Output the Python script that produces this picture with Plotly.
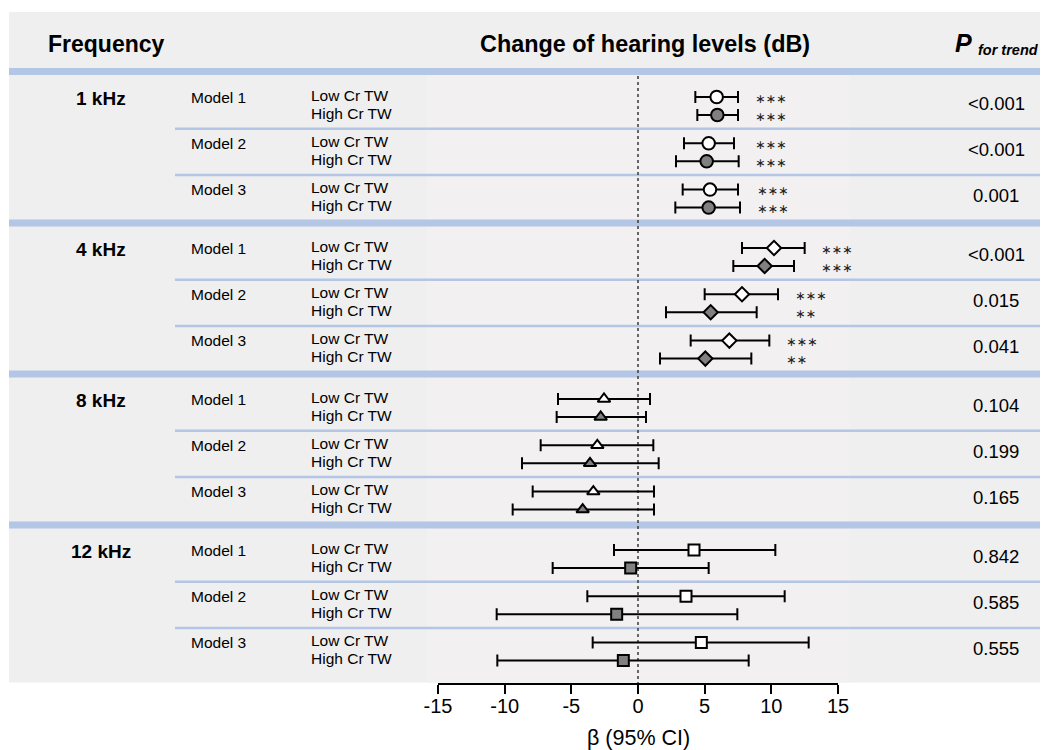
import plotly.graph_objects as go

# ---------------- data ----------------
frequencies = ["1 kHz", "4 kHz", "8 kHz", "12 kHz"]
models = ["Model 1", "Model 2", "Model 3"]
groups = ["Low Cr TW", "High Cr TW"]

# beta and 95% CI, rows = frequency, cols = model
beta_low = [[5.9, 5.3, 5.4], [10.2, 7.8, 6.85], [-2.55, -3.05, -3.35], [4.2, 3.6, 4.75]]
lower_low = [[4.3, 3.45, 3.35], [7.8, 5.0, 3.95], [-6.0, -7.3, -7.9], [-1.8, -3.8, -3.4]]
upper_low = [[7.5, 7.2, 7.5], [12.5, 10.5, 9.85], [0.9, 1.15, 1.2], [10.3, 11.0, 12.8]]

beta_high = [[5.95, 5.15, 5.3], [9.5, 5.45, 5.05], [-2.8, -3.6, -4.15], [-0.55, -1.6, -1.1]]
lower_high = [[4.45, 2.85, 2.8], [7.15, 2.1, 1.65], [-6.1, -8.7, -9.4], [-6.4, -10.6, -10.55]]
upper_high = [[7.5, 7.55, 7.65], [11.7, 8.9, 8.5], [0.6, 1.55, 1.2], [5.3, 7.45, 8.3]]

stars_low = [["***", "***", "***"], ["***", "***", "***"], ["", "", ""], ["", "", ""]]
stars_high = [["***", "***", "***"], ["***", "**", "**"], ["", "", ""], ["", "", ""]]

p_trend = [["<0.001", "<0.001", "0.001"], ["<0.001", "0.015", "0.041"],
           ["0.104", "0.199", "0.165"], ["0.842", "0.585", "0.555"]]

tick_vals = [-15, -10, -5, 0, 5, 10, 15]
tick_text = ["-15", "-10", "-5", "0", "5", "10", "15"]
x_title = "β (95% CI)"

# ---------------- styling / layout ----------------
OFF = 8                      # page offset of the figure inside the browser
W, H = 1048, 750 - OFF
AXIS_Y = 683                 # screen y of the x axis line
FONT = "Liberation Sans, Arial, sans-serif"
BLUE = "#b4c6e6"
BG = "#efefef"
BG_MID = "#f2f0f0"
symbols = ["circle", "diamond", "triangle-up", "square"]
msizes = [12.5, 11, 11, 11]
fills = ["white", "#808080"]

Y0, FSTEP, MSTEP, GSTEP = 97, 151, 46.3, 18


def row_y(i, j, k):
    return Y0 + FSTEP * i + MSTEP * j + GSTEP * k


def px(x):
    return (x - OFF) / W


def py(y):
    return (H - (y - OFF)) / H


fig = go.Figure()

shapes = []
shapes.append(dict(type="rect", xref="paper", yref="y", x0=px(9), x1=1, y0=12, y1=682.5,
                   fillcolor=BG, line_width=0, layer="below"))
shapes.append(dict(type="rect", xref="paper", yref="y", x0=px(427), x1=px(850), y0=75, y1=682.5,
                   fillcolor=BG_MID, line_width=0, layer="below"))
thick_ys = [68] + [row_y(i, 2, 1) + 12 for i in range(3)]
for ty in thick_ys:
    shapes.append(dict(type="rect", xref="paper", yref="y", x0=px(9), x1=1, y0=ty, y1=ty + 7,
                       fillcolor=BLUE, line_width=0, layer="below"))
for i in range(4):
    for j in range(2):
        ty = row_y(i, j, 1) + 12.5
        shapes.append(dict(type="rect", xref="paper", yref="y", x0=px(175), x1=1, y0=ty, y1=ty + 2.5,
                           fillcolor=BLUE, line_width=0, layer="below"))
shapes.append(dict(type="line", xref="x", yref="y", x0=0, x1=0, y0=76, y1=AXIS_Y,
                   line=dict(color="#444444", width=1.6, dash="dot"), layer="below"))

series = [(beta_low, lower_low, upper_low), (beta_high, lower_high, upper_high)]
for i in range(4):
    for k in range(2):
        b, lo, up = series[k]
        xs = b[i]
        ys = [row_y(i, j, k) for j in range(3)]
        fig.add_trace(go.Scatter(
            x=xs, y=ys, mode="markers", showlegend=False,
            marker=dict(symbol=symbols[i], size=msizes[i], color=fills[k],
                        line=dict(color="black", width=2)),
            error_x=dict(type="data", symmetric=False,
                         array=[up[i][j] - xs[j] for j in range(3)],
                         arrayminus=[xs[j] - lo[i][j] for j in range(3)],
                         color="black", thickness=2, width=6),
        ))

ann = []
ann.append(dict(x=px(46), y=44, xref="paper", yref="y", text="<b>Frequency</b>", showarrow=False,
                xanchor="left", yanchor="middle", font=dict(size=23, family=FONT, color="black")))
ann.append(dict(x=px(645), y=44, xref="paper", yref="y", text="<b>Change of hearing levels (dB)</b>",
                showarrow=False, xanchor="center", yanchor="middle",
                font=dict(size=23.4, family=FONT, color="black")))
ann.append(dict(x=px(953), y=43, xref="paper", yref="y", text="<b><i>P</i></b>",
                showarrow=False, xanchor="left", yanchor="middle",
                font=dict(size=25, family=FONT, color="black")))
ann.append(dict(x=px(1041), y=50, xref="paper", yref="y", text="<b><i>for trend</i></b>",
                showarrow=False, xanchor="right", yanchor="middle",
                font=dict(size=14.5, family=FONT, color="black")))
ann.append(dict(x=0, y=py(738), xref="x", yref="paper", text=x_title, showarrow=False,
                xanchor="center", yanchor="middle", font=dict(size=21.5, family=FONT, color="black")))

for i in range(4):
    ann.append(dict(x=px(101), y=row_y(i, 0, 0) + 1, xref="paper", yref="y",
                    text="<b>%s</b>" % frequencies[i], showarrow=False, xanchor="center",
                    yanchor="middle", font=dict(size=19, family=FONT, color="black")))
    for j in range(3):
        ann.append(dict(x=px(189), y=row_y(i, j, 0), xref="paper", yref="y", text=models[j],
                        showarrow=False, xanchor="left", yanchor="middle",
                        font=dict(size=15.5, family=FONT, color="black")))
        for k in range(2):
            ann.append(dict(x=px(309), y=row_y(i, j, k) - 2, xref="paper", yref="y", text=groups[k],
                            showarrow=False, xanchor="left", yanchor="middle",
                            font=dict(size=15.5, family=FONT, color="black")))
        ymid = (row_y(i, j, 0) + row_y(i, j, 1)) / 2 - 3
        ann.append(dict(x=px(996), y=ymid, xref="paper", yref="y", text=p_trend[i][j],
                        showarrow=False, xanchor="center", yanchor="middle",
                        font=dict(size=18.5, family=FONT, color="black")))
        xs_star = max(upper_low[i][j], upper_high[i][j]) + 1.1
        for k, st in enumerate([stars_low[i][j], stars_high[i][j]]):
            if st:
                ann.append(dict(x=xs_star, y=row_y(i, j, k) + 1, xref="x", yref="y",
                                text=st.replace("*", "∗"), showarrow=False,
                                xanchor="left", yanchor="middle",
                                font=dict(size=12.5, family="DejaVu Sans", color="#222222")))

fig.update_layout(
    width=W, height=H, autosize=False, margin=dict(l=0, r=0, t=0, b=0, autoexpand=False),
    paper_bgcolor="white", plot_bgcolor="rgba(0,0,0,0)",
    shapes=shapes, annotations=ann,
    xaxis=dict(domain=[px(438), px(838)], range=[-15, 15], tickvals=tick_vals, ticktext=tick_text,
               showline=True, linecolor="black", linewidth=2, ticks="outside",
               ticklen=9, tickwidth=2, tickcolor="black", showgrid=False, zeroline=False,
               tickfont=dict(size=20, family=FONT, color="black"), automargin=False,
               ticklabelstandoff=-5, fixedrange=True),
    yaxis=dict(domain=[py(AXIS_Y), 1], range=[AXIS_Y, OFF], visible=False,
               fixedrange=True),
)

fig.write_html("out.html", config={"responsive": False})
